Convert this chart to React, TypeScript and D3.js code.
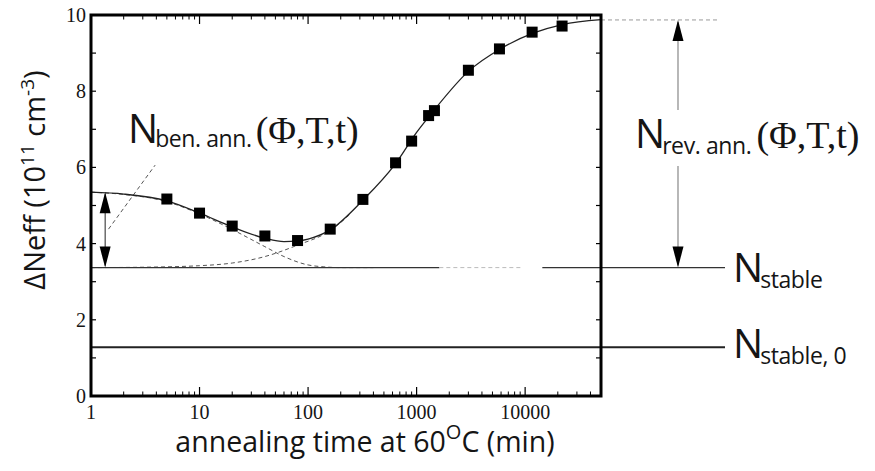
import React from "react";
import * as d3 from "d3";

// measured squares (annealing time in min, ΔNeff in 1e11 cm^-3)
const pointTimes = [5, 10, 20, 40, 80, 160, 320, 640, 900, 1290, 1460, 3000, 5800, 11600, 21900];
const pointValues = [5.17, 4.8, 4.46, 4.2, 4.08, 4.38, 5.16, 6.12, 6.69, 7.36, 7.49, 8.55, 9.11, 9.55, 9.71];

// full fit curve
const fitTimes = [1, 2, 5, 10, 20, 40, 60, 80, 100, 160, 320, 640, 1000, 1400, 3000, 6000, 12000, 22000, 50000];
const fitValues = [5.35, 5.3, 5.12, 4.8, 4.44, 4.14, 4.05, 4.07, 4.12, 4.36, 5.14, 6.1, 6.92, 7.45, 8.52, 9.12, 9.53, 9.75, 9.88];

// beneficial annealing component (dashed)
const benTimes = [1, 2, 5, 10, 20, 40, 60, 100, 140, 200, 400];
const benValues = [5.35, 5.29, 5.1, 4.78, 4.37, 3.92, 3.66, 3.44, 3.39, 3.37, 3.37];

// reverse annealing component (dashed)
const revTimes = [1, 3, 10, 20, 40, 80, 160, 250];
const revValues = [3.37, 3.38, 3.42, 3.49, 3.66, 3.96, 4.34, 4.8];

// leader line to the N_ben.ann. label
const leaderTimes = [1.45, 3.9];
const leaderValues = [4.38, 6.06];

const stableLevel = 3.37;
const stable0Level = 1.28;
const saturationLevel = 9.87;
const arrowTime = 1.35;

const xTickLabels = ["1", "10", "100", "1000", "10000"];
const yTickLabels = ["0", "2", "4", "6", "8", "10"];

const W = 875;
const H = 471;
const m = { left: 91, right: 601, top: 15, bottom: 396 };

const x = d3.scaleLog().domain([1, 50000]).range([m.left, m.right]);
const y = d3.scaleLinear().domain([0, 10]).range([m.bottom, m.top]);

const toPts = (ts: number[], vs: number[]) => ts.map((t, i) => [t, vs[i]] as [number, number]);

const line = d3
  .line<[number, number]>()
  .x((d) => x(d[0]))
  .y((d) => y(d[1]))
  .curve(d3.curveMonotoneX);

const straight = d3
  .line<[number, number]>()
  .x((d) => x(d[0]))
  .y((d) => y(d[1]));

const sans = "'Open Sans', 'Noto Sans', sans-serif";
const serif = "'Liberation Serif', 'DejaVu Serif', serif";
const ink = "#151515";

function ArrowHead({ x0, y0, dir }: { x0: number; y0: number; dir: "up" | "down" }) {
  const h = 21;
  const w = 5.5;
  const s = dir === "up" ? 1 : -1;
  return <polygon points={`${x0},${y0} ${x0 - w},${y0 + s * h} ${x0 + w},${y0 + s * h}`} fill="#000" />;
}

function Label({ x0, y0, sub }: { x0: number; y0: number; sub: string }) {
  return (
    <text x={x0} y={y0} fill={ink} fontFamily={sans}>
      <tspan fontSize={40} letterSpacing={-3}>N</tspan>
      <tspan fontSize={23} dy={6} letterSpacing={-0.4}>
        {sub}
      </tspan>
    </text>
  );
}

export default function App() {
  const majorX = [1, 10, 100, 1000, 10000];
  const minorX: number[] = [];
  for (let d = 1; d <= 10000; d *= 10) {
    for (let k = 2; k <= 9; k++) if (d * k <= 50000) minorX.push(d * k);
  }
  const yTicks = d3.range(0, 11, 1);

  const xr = m.right; // right edge of frame
  const arrowX = xr + 77;
  const lineEnd = xr + 124;
  const labelX = xr + 132;

  return (
    <svg width={W} height={H} style={{ position: "absolute", left: 0, top: 0, background: "#fff" }}>
      {/* components and fit */}
      <path d={line(toPts(benTimes, benValues)) || ""} fill="none" stroke="#555" strokeWidth={1} strokeDasharray="4,3" />
      <path d={line(toPts(revTimes, revValues)) || ""} fill="none" stroke="#555" strokeWidth={1} strokeDasharray="4,3" />
      <path d={straight(toPts(leaderTimes, leaderValues)) || ""} fill="none" stroke="#555" strokeWidth={1} strokeDasharray="4,3" />
      <path d={line(toPts(fitTimes, fitValues)) || ""} fill="none" stroke="#222" strokeWidth={1.3} />

      {/* N_stable level */}
      <line x1={m.left} x2={x(1620)} y1={y(stableLevel)} y2={y(stableLevel)} stroke="#333" strokeWidth={1.3} />
      <line x1={x(1620)} x2={x(9200)} y1={y(stableLevel)} y2={y(stableLevel)} stroke="#bbb" strokeWidth={1} strokeDasharray="4,3" />
      <line x1={x(14400)} x2={lineEnd} y1={y(stableLevel)} y2={y(stableLevel)} stroke="#333" strokeWidth={1.3} />

      {/* N_stable,0 level */}
      <line x1={m.left} x2={lineEnd} y1={y(stable0Level)} y2={y(stable0Level)} stroke="#222" strokeWidth={2} />

      {/* saturation level */}
      <line x1={xr} x2={xr + 117} y1={y(saturationLevel)} y2={y(saturationLevel)} stroke="#999" strokeWidth={1} strokeDasharray="4,3" />

      {/* data squares */}
      {pointTimes.map((t, i) => (
        <rect key={i} x={x(t) - 5.5} y={y(pointValues[i]) - 5.5} width={11} height={11} fill="#000" />
      ))}

      {/* left double arrow */}
      <line x1={x(arrowTime)} x2={x(arrowTime)} y1={y(fitValues[0]) + 2} y2={y(stableLevel) - 2} stroke="#222" strokeWidth={1} />
      <ArrowHead x0={x(arrowTime)} y0={y(fitValues[0])} dir="up" />
      <ArrowHead x0={x(arrowTime)} y0={y(stableLevel)} dir="down" />

      {/* right double arrow */}
      <line x1={arrowX} x2={arrowX} y1={y(saturationLevel) + 2} y2={110} stroke="#888" strokeWidth={1.2} />
      <line x1={arrowX} x2={arrowX} y1={166} y2={y(stableLevel) - 2} stroke="#888" strokeWidth={1.2} />
      <ArrowHead x0={arrowX} y0={y(saturationLevel)} dir="up" />
      <ArrowHead x0={arrowX} y0={y(stableLevel)} dir="down" />

      {/* frame ticks */}
      {majorX.map((t) => (
        <g key={"mx" + t}>
          <line x1={x(t)} x2={x(t)} y1={m.bottom} y2={m.bottom - 9} stroke="#000" strokeWidth={1.2} />
          <line x1={x(t)} x2={x(t)} y1={m.top} y2={m.top + 9} stroke="#000" strokeWidth={1.2} />
        </g>
      ))}
      {minorX.map((t) => (
        <g key={"nx" + t}>
          <line x1={x(t)} x2={x(t)} y1={m.bottom} y2={m.bottom - 4.5} stroke="#000" strokeWidth={1} />
          <line x1={x(t)} x2={x(t)} y1={m.top} y2={m.top + 4.5} stroke="#000" strokeWidth={1} />
        </g>
      ))}
      {yTicks.map((v) => (
        <g key={"y" + v}>
          <line x1={m.left} x2={m.left + 5} y1={y(v)} y2={y(v)} stroke="#000" strokeWidth={1.2} />
          <line x1={m.right} x2={m.right - 5} y1={y(v)} y2={y(v)} stroke="#000" strokeWidth={1.2} />
        </g>
      ))}
      <rect x={m.left} y={m.top} width={m.right - m.left} height={m.bottom - m.top} fill="none" stroke="#000" strokeWidth={3} />

      {/* tick labels */}
      {xTickLabels.map((s) => (
        <text key={"xl" + s} x={x(+s)} y={419} textAnchor="middle" fontFamily={serif} fontSize={20} fill={ink}>
          {s}
        </text>
      ))}
      {yTickLabels.map((s) => (
        <text key={"yl" + s} x={m.left - 5} y={y(+s)} dy="0.35em" textAnchor="end" fontFamily={serif} fontSize={20} fill={ink}>
          {s}
        </text>
      ))}

      {/* axis titles */}
      <text x={365} y={452} textAnchor="middle" fontFamily={sans} fontSize={28.5} fill={ink}>
        annealing time at 60
        <tspan fontSize={20} dy={-13}>
          O
        </tspan>
        <tspan dy={13}>C (min)</tspan>
      </text>
      <text transform={`translate(45,180) rotate(-90)`} textAnchor="middle" fontFamily={sans} fontSize={29} fill={ink}>
        ΔNeff (10
        <tspan fontSize={19} dy={-11}>
          11
        </tspan>
        <tspan dy={11}> cm</tspan>
        <tspan fontSize={19} dy={-11}>
          -3
        </tspan>
        <tspan dy={11}>)</tspan>
      </text>

      {/* annotations */}
      <text x={128} y={143} fill={ink}>
        <tspan fontFamily={sans} fontSize={40} letterSpacing={-3}>N</tspan>
        <tspan fontFamily={sans} fontSize={23} dy={4} letterSpacing={-0.4}>ben. ann.</tspan>
        <tspan fontFamily={serif} fontSize={38} dy={-4} dx={4}>(Φ,T,t)</tspan>
      </text>
      <text x={635} y={148} fill={ink}>
        <tspan fontFamily={sans} fontSize={40} letterSpacing={-3}>N</tspan>
        <tspan fontFamily={sans} fontSize={23} dy={6} letterSpacing={-0.4}>rev. ann.</tspan>
        <tspan fontFamily={serif} fontSize={38} dy={-6} dx={5}>(Φ,T,t)</tspan>
      </text>
      <Label x0={labelX} y0={282} sub="stable" />
      <Label x0={labelX} y0={358} sub="stable, 0" />
    </svg>
  );
}
